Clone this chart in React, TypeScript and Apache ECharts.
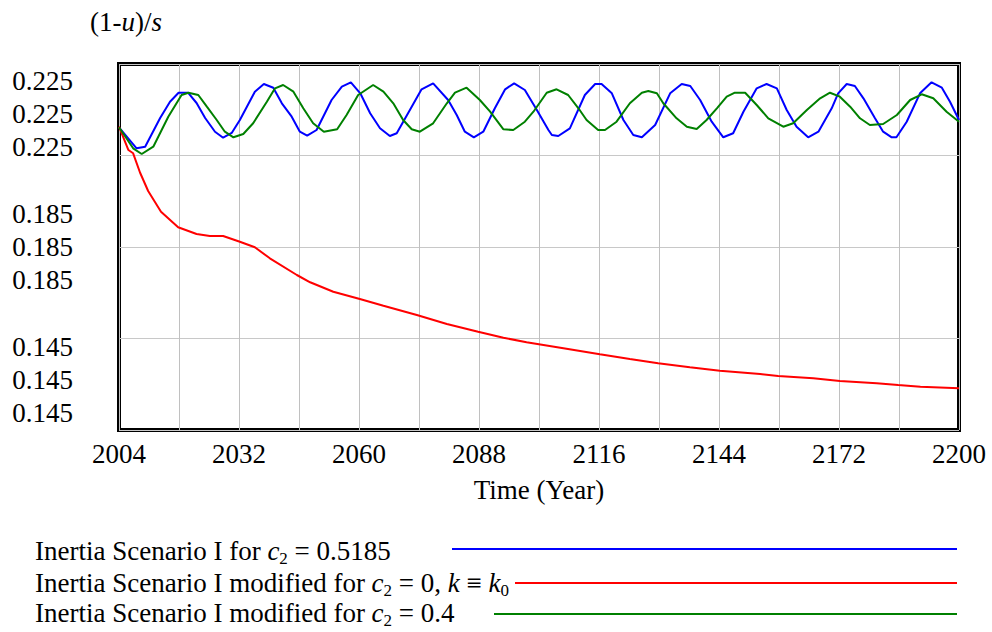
import React, { useEffect, useRef } from 'react';
import * as echarts from 'echarts';

const FONT = '"Liberation Serif", "Times New Roman", serif';

// x tick labels (grid every 14 years, labels every 28 years)
const xTickLabels = ['2004', '2032', '2060', '2088', '2116', '2144', '2172', '2200'];
// stacked y labels as drawn in the reference
const yTickLabels = ['0.225', '0.225', '0.225', '', '0.185', '0.185', '0.185', '', '0.145', '0.145', '0.145'];

const seriesNames = [
  'Inertia Scenario I for c2 = 0.5185',
  'Inertia Scenario I modified for c2 = 0, k ≡ k0',
  'Inertia Scenario I modified for c2 = 0.4',
];

const blueYears = [2004, 2008.1, 2010.1, 2013.6, 2015.9, 2017.9, 2020.1, 2022.1, 2024.1, 2026.4, 2028.3, 2030.3, 2032.2, 2035.7, 2037.8, 2040.0, 2042.0, 2044.3, 2046.2, 2047.9, 2050.1, 2053.6, 2056.0, 2058.1, 2060.3, 2062.6, 2064.9, 2067.2, 2068.8, 2072.3, 2074.6, 2077.3, 2080.8, 2082.8, 2084.7, 2086.8, 2089.0, 2091.7, 2094.1, 2096.2, 2098.7, 2101.5, 2104.2, 2105.0, 2106.5, 2109.2, 2112.7, 2115.1, 2116.6, 2119.0, 2121.7, 2124.0, 2126.0, 2129.1, 2132.6, 2135.3, 2137.3, 2139.6, 2142.3, 2145.0, 2147.3, 2149.7, 2152.8, 2155.1, 2157.5, 2159.8, 2162.1, 2164.8, 2167.2, 2170.3, 2171.8, 2173.8, 2175.7, 2177.7, 2180.4, 2182.3, 2184.3, 2185.4, 2187.8, 2190.9, 2193.6, 2196.0, 2197.9, 2200];
const blueValues = [0.21925, 0.21236, 0.21289, 0.2223, 0.22764, 0.23059, 0.23059, 0.22721, 0.2223, 0.2178, 0.21584, 0.21738, 0.22164, 0.23092, 0.23344, 0.23223, 0.22712, 0.22272, 0.2178, 0.21649, 0.21836, 0.2282, 0.23256, 0.234, 0.23039, 0.22384, 0.21892, 0.21639, 0.21728, 0.226, 0.2317, 0.23367, 0.2282, 0.22328, 0.2178, 0.21597, 0.2178, 0.22548, 0.2317, 0.23367, 0.23148, 0.22492, 0.21836, 0.21672, 0.21639, 0.21892, 0.22984, 0.23344, 0.23344, 0.23039, 0.22164, 0.21672, 0.21597, 0.22, 0.23039, 0.23344, 0.23279, 0.2282, 0.22108, 0.21597, 0.21728, 0.22436, 0.23203, 0.23344, 0.23203, 0.22492, 0.21944, 0.21597, 0.2178, 0.22548, 0.23039, 0.23344, 0.23279, 0.22875, 0.2222, 0.2178, 0.21597, 0.21597, 0.22108, 0.23039, 0.234, 0.23223, 0.22764, 0.22164];

const redYears = [2004, 2006.2, 2007.3, 2008.9, 2010.8, 2013.8, 2017.8, 2022.1, 2025.2, 2028.3, 2032.2, 2035.7, 2039.2, 2045.5, 2048.6, 2054.0, 2060.2, 2065.7, 2073.5, 2080.5, 2087.8, 2093.7, 2099.1, 2107.7, 2116.2, 2123.2, 2129.8, 2137.2, 2144.2, 2153.6, 2157.8, 2166.0, 2172.2, 2180.8, 2185.8, 2191.0, 2200];
const redValues = [0.21944, 0.2118, 0.21072, 0.20443, 0.19836, 0.19157, 0.18646, 0.18426, 0.18361, 0.18361, 0.18174, 0.1799, 0.1763, 0.17082, 0.16843, 0.16534, 0.16295, 0.16075, 0.1577, 0.15475, 0.15223, 0.15026, 0.14875, 0.14679, 0.14482, 0.14328, 0.14187, 0.14056, 0.13944, 0.13836, 0.1377, 0.13695, 0.13607, 0.13531, 0.13475, 0.1342, 0.13367];

const greenYears = [2004, 2007.3, 2009.3, 2012.0, 2015.5, 2018.6, 2020.2, 2022.5, 2024.5, 2026.8, 2028.7, 2030.7, 2033.0, 2035.3, 2038.5, 2040.4, 2042.3, 2044.7, 2047.0, 2049.3, 2051.8, 2054.9, 2057.1, 2059.8, 2063.3, 2065.7, 2068.0, 2070.3, 2072.3, 2074.2, 2077.3, 2080.5, 2082.4, 2085.1, 2088.2, 2090.6, 2093.7, 2096.0, 2098.7, 2100.7, 2103.8, 2106.1, 2108.8, 2111.2, 2113.1, 2115.8, 2117.4, 2120.1, 2123.2, 2126.0, 2127.5, 2129.5, 2131.0, 2134.1, 2136.5, 2138.8, 2141.1, 2143.5, 2145.8, 2147.7, 2150.1, 2152.8, 2155.5, 2159.0, 2161.3, 2164.5, 2167.6, 2169.9, 2172.2, 2174.6, 2176.9, 2179.2, 2182.3, 2185.5, 2188.6, 2191.3, 2194.0, 2197.1, 2200];
const greenValues = [0.21925, 0.21236, 0.21049, 0.21289, 0.22272, 0.22984, 0.23059, 0.22984, 0.226, 0.22164, 0.2178, 0.21597, 0.21705, 0.22056, 0.22764, 0.23203, 0.23311, 0.23092, 0.22548, 0.22056, 0.2178, 0.21859, 0.22328, 0.22984, 0.23311, 0.23092, 0.22712, 0.22164, 0.21859, 0.2178, 0.22056, 0.22712, 0.23059, 0.23223, 0.2282, 0.22436, 0.21859, 0.21836, 0.22108, 0.22436, 0.23059, 0.2317, 0.22984, 0.22548, 0.22164, 0.21836, 0.21836, 0.22108, 0.22712, 0.23059, 0.23115, 0.23039, 0.22712, 0.2222, 0.21944, 0.21869, 0.22164, 0.22548, 0.22928, 0.23059, 0.23059, 0.22656, 0.2222, 0.21944, 0.22056, 0.22492, 0.22875, 0.23059, 0.22928, 0.226, 0.2222, 0.22, 0.22033, 0.22328, 0.2282, 0.23006, 0.22875, 0.22436, 0.22108];

const START_YEAR = 2004;
const zip = (xs: number[], ys: number[]) => xs.map((x, i) => [x - START_YEAR, ys[i]]);

const baseRich = (size: number) => ({
  n: { fontSize: size, fontFamily: FONT, fill: '#000', lineHeight: 32 },
  i: { fontSize: size, fontFamily: FONT, fontStyle: 'italic', fill: '#000', lineHeight: 32 },
  s: { fontSize: 17, fontFamily: FONT, fill: '#000', verticalAlign: 'bottom', lineHeight: 17 },
});

export default function App() {
  const ref = useRef<HTMLDivElement>(null);
  useEffect(() => {
    if (!ref.current) return;
    const chart = echarts.init(ref.current, undefined, { renderer: 'svg' });
    const legendText = [
      '{n|Inertia Scenario I for }{i|c}{s|2}{n| = 0.5185}',
      '{n|Inertia Scenario I modified for }{i|c}{s|2}{n| = 0, }{i|k}{n| ≡ }{i|k}{s|0}',
      '{n|Inertia Scenario I modified for }{i|c}{s|2}{n| = 0.4}',
    ];
    const legendY = [551, 583, 613];
    const legendLines = [
      { x1: 452, x2: 957, y: 549, color: '#0000ff' },
      { x1: 515, x2: 957, y: 583, color: '#ff0000' },
      { x1: 494, x2: 957, y: 614, color: '#008000' },
    ];
    const graphic: any[] = [
      {
        type: 'text',
        x: 90,
        y: 22,
        style: {
          text: '{n|(1-}{i|u}{n|)/}{i|s}',
          rich: baseRich(27),
          align: 'left',
          verticalAlign: 'middle',
        },
      },
    ];
    legendText.forEach((t, k) => {
      graphic.push({
        type: 'text',
        x: 35,
        y: legendY[k],
        style: { text: t, rich: baseRich(27), align: 'left', verticalAlign: 'middle' },
      });
      const l = legendLines[k];
      graphic.push({
        type: 'line',
        shape: { x1: l.x1, y1: l.y, x2: l.x2, y2: l.y },
        style: { stroke: l.color, lineWidth: 2 },
      });
    });

    chart.setOption({
      animation: false,
      backgroundColor: '#fff',
      grid: {
        left: 119,
        right: 33,
        top: 64,
        height: 366,
        show: true,
        borderColor: '#000',
        borderWidth: 4,
        backgroundColor: 'transparent',
      },
      xAxis: {
        type: 'value',
        min: 0,
        max: 196,
        interval: 14,
        name: 'Time (Year)',
        nameLocation: 'middle',
        nameGap: 46,
        nameTextStyle: { fontSize: 27, fontFamily: FONT, color: '#000' },
        axisLine: { show: false },
        axisTick: { show: false },
        splitLine: { show: true, lineStyle: { color: '#c0c0c0', width: 1 } },
        axisLabel: {
          fontSize: 27,
          fontFamily: FONT,
          color: '#000',
          margin: 10,
          showMinLabel: true,
          showMaxLabel: true,
          formatter: (v: number) => (Math.round(v) % 28 === 0 ? xTickLabels[Math.round(v) / 28] : ''),
        },
      },
      yAxis: [
        {
          type: 'value',
          min: 0.12,
          max: 0.24,
          interval: 0.03,
          axisLine: { show: false },
          axisTick: { show: false },
          axisLabel: { show: false },
          splitLine: { show: true, lineStyle: { color: '#c8c8c8', width: 1 } },
        },
        {
          type: 'category',
          position: 'left',
          inverse: true,
          data: yTickLabels,
          axisLine: { show: false },
          axisTick: { show: false },
          splitLine: { show: false },
          axisLabel: { interval: 0, margin: 46, fontSize: 27, fontFamily: FONT, color: '#000' },
        },
      ],
      series: [
        { name: seriesNames[0], type: 'line', data: zip(blueYears, blueValues), showSymbol: false, lineStyle: { color: '#0000ff', width: 2 }, itemStyle: { color: '#0000ff' } },
        { name: seriesNames[1], type: 'line', data: zip(redYears, redValues), showSymbol: false, lineStyle: { color: '#ff0000', width: 2 }, itemStyle: { color: '#ff0000' } },
        { name: seriesNames[2], type: 'line', data: zip(greenYears, greenValues), showSymbol: false, lineStyle: { color: '#008000', width: 2 }, itemStyle: { color: '#008000' } },
      ],
      graphic,
    });
    return () => chart.dispose();
  }, []);
  return <div ref={ref} style={{ position: 'fixed', left: 0, top: 0, width: 992, height: 632 }} />;
}
